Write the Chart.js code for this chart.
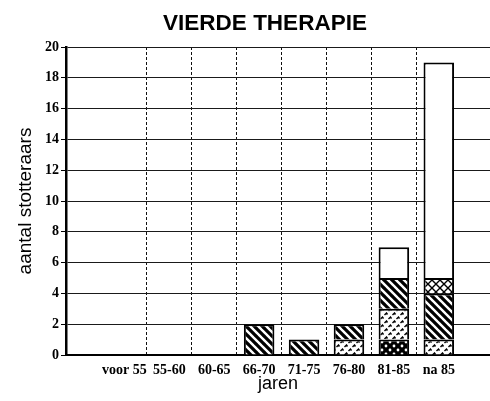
<!DOCTYPE html>
<html>
<head>
<meta charset="utf-8">
<script src="https://cdn.jsdelivr.net/npm/chart.js@4/dist/chart.umd.min.js"></script>
<style>
  html, body { margin: 0; padding: 0; background: #fff; }
  #wrap { width: 490px; height: 401px; }
</style>
</head>
<body>
<div id="wrap"><canvas id="c" width="490" height="401"></canvas></div>
<script>
// ---- data ----
const categories = ['voor 55', '55-60', '60-65', '66-70', '71-75', '76-80', '81-85', 'na 85'];
const donkerGestippeld = [0, 0, 0, 0, 0, 0, 1, 0];
const gespikkeld       = [0, 0, 0, 0, 0, 1, 2, 1];
const gearceerd        = [0, 0, 0, 2, 1, 1, 2, 3];
const geruit           = [0, 0, 0, 0, 0, 0, 0, 1];
const wit              = [0, 0, 0, 0, 0, 0, 2, 14];
const yTickValues = [0, 2, 4, 6, 8, 10, 12, 14, 16, 18, 20];

// ---- fill patterns ----
function makePattern(size, draw) {
  const cv = document.createElement('canvas');
  cv.width = size; cv.height = size;
  const g = cv.getContext('2d');
  draw(g, size);
  return g.createPattern(cv, 'repeat');
}
const ctx = document.getElementById('c').getContext('2d');
const patDots = makePattern(8, (g, s) => {
  g.fillStyle = '#000'; g.fillRect(0, 0, s, s);
  g.fillStyle = '#fff';
  g.beginPath(); g.arc(2, 2, 1.4, 0, Math.PI * 2); g.fill();
  g.beginPath(); g.arc(6, 6, 1.4, 0, Math.PI * 2); g.fill();
});
const patSpeckle = makePattern(8, (g, s) => {
  g.fillStyle = '#fff'; g.fillRect(0, 0, s, s);
  g.strokeStyle = '#000'; g.lineWidth = 1.4;
  g.beginPath();
  g.moveTo(0.5, 3); g.lineTo(2.5, 1); g.lineTo(3.5, 2.5);
  g.moveTo(4.5, 7); g.lineTo(6.5, 5); g.lineTo(7.5, 6.5);
  g.stroke();
});
const patHatch = makePattern(8, (g, s) => {
  g.fillStyle = '#fff'; g.fillRect(0, 0, s, s);
  g.strokeStyle = '#000'; g.lineWidth = 3.2;
  g.beginPath();
  for (const c of [-s, 0, s]) { g.moveTo(c - 1, -1); g.lineTo(c + s + 1, s + 1); }
  g.stroke();
});
const patCross = makePattern(8, (g, s) => {
  g.fillStyle = '#fff'; g.fillRect(0, 0, s, s);
  g.strokeStyle = '#000'; g.lineWidth = 1.4;
  g.beginPath();
  g.moveTo(0, 0); g.lineTo(s, s);
  g.moveTo(s, 0); g.lineTo(0, s);
  g.stroke();
});

function pts(arr) {
  return arr.map((v, i) => ({ x: i, y: v === 0 ? null : v }));
}
function ds(label, arr, fill) {
  return {
    label, data: pts(arr), backgroundColor: fill,
    xAxisID: 'x', yAxisID: 'y',
    borderColor: '#000', borderWidth: 2,
    barPercentage: 0.68, categoryPercentage: 1
  };
}

const X_MIN = -1.3, X_MAX = 8.14;

new Chart(ctx, {
  type: 'bar',
  data: {
    datasets: [
      ds('donker gestippeld', donkerGestippeld, patDots),
      ds('gespikkeld', gespikkeld, patSpeckle),
      ds('gearceerd', gearceerd, patHatch),
      ds('geruit', geruit, patCross),
      ds('wit', wit, '#fff')
    ]
  },
  options: {
    responsive: false,
    animation: false,
    devicePixelRatio: 1,
    layout: { padding: { left: 40, right: 0, top: 0, bottom: 0 } },
    plugins: {
      legend: { display: false },
      tooltip: { enabled: false },
      title: {
        display: true,
        text: 'VIERDE THERAPIE',
        color: '#000',
        font: { family: '"Liberation Sans", Arial, sans-serif', size: 22.5, weight: 'bold' },
        padding: { top: 10, bottom: 10 }
      }
    },
    scales: {
      xg: {
        type: 'linear', position: 'bottom', min: X_MIN, max: X_MAX,
        offset: false, weight: 10,
        afterBuildTicks: s => { s.ticks = [0.5, 1.5, 2.5, 3.5, 4.5, 5.5, 6.5].map(v => ({ value: v })); },
        afterFit: s => { s.height = 0; },
        ticks: { display: false },
        border: { display: false, dash: [3, 2] },
        grid: { color: '#111', lineWidth: 1, offset: false, drawTicks: true, tickLength: 4, tickColor: '#000' }
      },
      x: {
        type: 'linear', position: 'bottom', min: X_MIN, max: X_MAX, stacked: true,
        offset: false, weight: 0,
        afterBuildTicks: s => { s.ticks = categories.map((c, i) => ({ value: i })); },
        afterFit: s => { s.height = 46; },
        ticks: {
          callback: v => categories[v],
          color: '#000', padding: 3, maxRotation: 0, autoSkip: false,
          font: { family: '"Liberation Serif", "Times New Roman", serif', size: 14, weight: 'bold' }
        },
        grid: { display: false, offset: false, drawTicks: true, tickLength: 4 },
        border: { display: true, color: '#000', width: 2 },
        title: {
          display: true, text: 'jaren', color: '#000',
          font: { family: '"Liberation Sans", Arial, sans-serif', size: 18 },
          padding: { top: 0, bottom: 6 }
        }
      },
      y: {
        min: 0, max: 20, stacked: true,
        afterBuildTicks: s => { s.ticks = yTickValues.map(v => ({ value: v })); },
        afterFit: s => { s.width = 26; },
        ticks: {
          color: '#000', padding: 2,
          font: { family: '"Liberation Serif", "Times New Roman", serif', size: 14, weight: 'bold' }
        },
        grid: { color: '#1a1a1a', lineWidth: 1, drawTicks: true, tickLength: 5, tickColor: '#000' },
        border: { display: true, color: '#000', width: 2.5 },
        title: {
          display: true, text: 'aantal stotteraars', color: '#000',
          font: { family: '"Liberation Sans", Arial, sans-serif', size: 19 },
          padding: { top: -26, bottom: 0 }
        }
      }
    }
  }
});
</script>
</body>
</html>
